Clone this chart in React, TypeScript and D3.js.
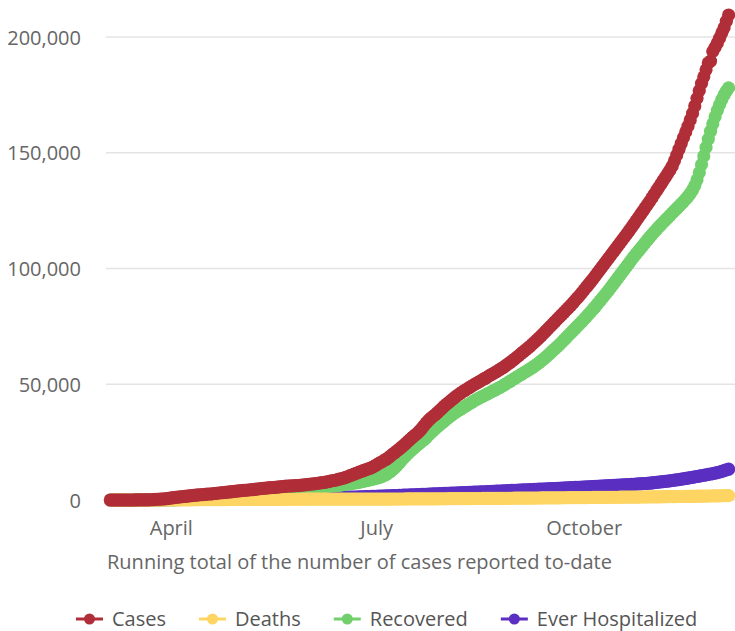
import React from "react";
import * as d3 from "d3";

// Daily running totals, first value = 2020-03-05, last value = 2020-12-04
const startDate = new Date(2020, 2, 5);
const endDate = new Date(2020, 11, 4);

const cases = [
  1, 1, 2, 2, 2, 2, 2, 3, 4, 7, 10, 17, 29, 44, 49, 53, 67, 81, 106, 164, 248, 322, 377, 429, 481, 565,
  719, 879, 988, 1159, 1252, 1327, 1472, 1524, 1684, 1794, 1868, 1970, 2069, 2184, 2263, 2357, 2465, 2510, 2599, 2680, 2807, 2894, 3017, 3121, 3193, 3280, 3410, 3473, 3618, 3748,
  3851, 3972, 4044, 4127, 4201, 4330, 4424, 4490, 4613, 4732, 4852, 4962, 5086, 5132, 5236, 5310, 5398, 5489, 5532, 5680, 5750, 5849, 5960, 6037, 6090, 6137, 6229, 6270, 6338, 6418, 6506,
  6650, 6742, 6907, 7003, 7116, 7235, 7363, 7480, 7626, 7848, 8073, 8231, 8417, 8645, 8900, 9150, 9400, 9700, 10050, 10450, 10800, 11150, 11550, 11950, 12300, 12650, 13000, 13350, 13700, 14100,
  14600, 15200, 15800, 16300, 16900, 17500, 18100, 18900, 19700, 20400, 21200, 22000, 22800, 23600, 24500, 25400, 26300, 27200, 28000, 28800, 29800, 30900, 32100, 33300, 34400, 35300, 36100, 36900, 37800, 38700, 39600,
  40600, 41400, 42200, 43000, 43800, 44600, 45300, 46000, 46700, 47300, 47900, 48500, 49100, 49700, 50300, 50800, 51400, 52000, 52500, 53100, 53700, 54300, 54800, 55400, 56000, 56600, 57200, 57900, 58600, 59300, 60000,
  60800, 61600, 62400, 63200, 64000, 64800, 65600, 66400, 67300, 68200, 69100, 70000, 71000, 72000, 73000, 74000, 75000, 76000, 77000, 78000, 79000, 80000, 81000, 82000, 83000, 84000, 85100, 86200, 87300, 88400,
  89600, 90800, 92000, 93200, 94400, 95600, 96900, 98200, 99500, 100800, 102100, 103400, 104700, 106000, 107300, 108600, 109900, 111200, 112500, 113800, 115100, 116400, 117800, 119200, 120600, 122000, 123400, 124800, 126200, 127600, 129000,
  130500, 132000, 133500, 135000, 136500, 138000, 139500, 141000, 142500, 144200, 146500, 149000, 151500, 154000, 156500, 159000, 161500, 164200, 167000, 170200, 173500, 176800, 180000, 182800, 185800, 188800, 189600, 193800, 195500, 197400,
  199500, 201800, 204000, 206800, 209500,
];

const deaths = [
  0, 0, 0, 0, 0, 0, 0, 0, 0, 0, 0, 0, 0, 1, 1, 1, 2, 2, 3, 5, 7, 8, 15, 16, 17, 23,
  30, 34, 38, 42, 46, 51, 67, 80, 86, 88, 94, 99, 108, 123, 127, 131, 136, 139, 140, 143, 164, 170, 179, 188, 191, 195, 197, 207, 222, 230,
  234, 237, 238, 238, 245, 253, 260, 266, 270, 274, 278, 283, 288, 294, 299, 299, 300, 302, 307, 311, 313, 318, 320, 322, 322, 326, 328, 331, 334, 337, 340,
  341, 343, 344, 346, 348, 350, 351, 353, 354, 355, 357, 358, 359, 360, 361, 363, 364, 366, 368, 369, 370, 372, 373, 375, 377, 380, 382, 384, 386, 388,
  390, 394, 398, 400, 403, 406, 410, 414, 419, 424, 428, 432, 436, 441, 446, 451, 456, 461, 465, 470, 476, 482, 488, 494, 500, 505, 510, 516, 522, 530, 536,
  544, 550, 556, 562, 570, 578, 586, 594, 600, 606, 614, 622, 630, 638, 646, 652, 658, 666, 674, 682, 690, 698, 704, 710, 718, 726, 734, 742, 750, 756, 762,
  770, 780, 790, 800, 808, 816, 822, 830, 840, 850, 860, 870, 878, 886, 896, 906, 916, 926, 936, 944, 952, 962, 972, 982, 992, 1000, 1008, 1016, 1026, 1036,
  1046, 1056, 1066, 1074, 1082, 1092, 1102, 1112, 1122, 1132, 1140, 1148, 1158, 1168, 1178, 1188, 1198, 1206, 1214, 1224, 1234, 1244, 1254, 1264, 1272, 1280, 1290, 1300, 1310, 1320, 1330,
  1340, 1350, 1362, 1376, 1390, 1404, 1418, 1430, 1442, 1456, 1472, 1488, 1504, 1520, 1534, 1548, 1564, 1582, 1600, 1618, 1636, 1652, 1668, 1686, 1706, 1724, 1738, 1752, 1768, 1786,
  1806, 1830, 1856, 1880, 1904,
];

const recovered = [
  0, 0, 0, 0, 0, 0, 0, 0, 0, 0, 0, 0, 0, 0, 0, 0, 0, 0, 0, 0, 7, 8, 10, 13, 20, 25,
  31, 45, 58, 82, 125, 172, 230, 288, 358, 420, 488, 560, 640, 708, 790, 860, 940, 1020, 1100, 1180, 1260, 1340, 1420, 1500, 1580, 1660, 1740, 1830, 1920, 2010,
  2100, 2190, 2280, 2370, 2460, 2550, 2650, 2750, 2850, 2950, 3050, 3150, 3250, 3350, 3460, 3560, 3660, 3760, 3860, 3960, 4060, 4160, 4260, 4360, 4450, 4540, 4630, 4720, 4810, 4900, 4990,
  5080, 5170, 5260, 5350, 5440, 5530, 5620, 5710, 5800, 5890, 5980, 6070, 6160, 6250, 6350, 6460, 6580, 6700, 6830, 6970, 7120, 7280, 7450, 7630, 7820, 8020, 8230, 8450, 8680, 8920,
  9170, 9430, 9700, 10000, 10400, 10900, 11500, 12200, 13000, 13900, 14900, 16000, 17100, 18200, 19200, 20200, 21100, 22000, 22900, 23700, 24500, 25300, 26100, 27000, 28000, 29000, 29900, 30800, 31700, 32500, 33300,
  34100, 34900, 35700, 36500, 37200, 37900, 38500, 39100, 39700, 40300, 40900, 41500, 42100, 42700, 43300, 43800, 44300, 44800, 45300, 45800, 46300, 46800, 47300, 47800, 48300, 48800, 49400, 50000, 50600, 51200, 51800,
  52400, 53000, 53600, 54200, 54800, 55400, 56000, 56600, 57200, 57900, 58600, 59300, 60100, 60900, 61700, 62600, 63500, 64400, 65300, 66200, 67100, 68100, 69100, 70100, 71100, 72100, 73100, 74100, 75100, 76100,
  77100, 78100, 79200, 80300, 81400, 82500, 83600, 84800, 86000, 87200, 88400, 89600, 90800, 92100, 93400, 94700, 96000, 97300, 98600, 99900, 101200, 102500, 103800, 105100, 106300, 107500, 108700, 109900, 111100, 112300, 113500,
  114600, 115700, 116800, 117900, 118900, 119900, 120900, 121900, 122900, 123900, 124900, 125900, 126900, 127900, 128900, 130000, 131100, 132400, 133900, 135800, 138300, 141400, 144900, 148600, 152300, 155900, 159300, 162500, 165500, 168300,
  170800, 173000, 175000, 176600, 178000,
];

const hospitalized = [
  0, 0, 0, 0, 0, 0, 0, 0, 0, 0, 0, 2, 4, 8, 10, 14, 16, 20, 26, 45, 59, 71, 91, 105, 140, 164,
  202, 219, 257, 275, 316, 340, 363, 390, 415, 438, 460, 476, 493, 514, 533, 552, 570, 580, 589, 605, 620, 636, 654, 668, 680, 690, 700, 712, 725, 740,
  752, 760, 765, 772, 782, 790, 800, 808, 815, 820, 826, 834, 842, 850, 856, 860, 864, 870, 876, 882, 890, 896, 900, 904, 908, 914, 920, 926, 932, 936, 940,
  950, 960, 972, 984, 996, 1006, 1014, 1024, 1036, 1048, 1060, 1074, 1088, 1102, 1118, 1136, 1156, 1178, 1200, 1224, 1248, 1272, 1300, 1330, 1360, 1392, 1424, 1456, 1490, 1526,
  1565, 1604, 1640, 1672, 1706, 1744, 1784, 1826, 1868, 1910, 1950, 1988, 2028, 2070, 2112, 2156, 2200, 2240, 2278, 2318, 2360, 2404, 2448, 2492, 2532, 2570, 2610, 2652, 2696, 2740, 2782,
  2822, 2858, 2894, 2934, 2976, 3020, 3064, 3106, 3144, 3182, 3224, 3268, 3314, 3360, 3404, 3444, 3484, 3528, 3574, 3622, 3670, 3716, 3758, 3800, 3846, 3894, 3944, 3994, 4042, 4086, 4130,
  4176, 4222, 4268, 4312, 4352, 4390, 4430, 4474, 4520, 4566, 4612, 4656, 4698, 4740, 4786, 4834, 4882, 4930, 4976, 5020, 5066, 5116, 5168, 5220, 5270, 5318, 5364, 5412, 5462, 5514,
  5566, 5618, 5668, 5716, 5766, 5818, 5872, 5926, 5980, 6032, 6082, 6134, 6188, 6244, 6300, 6356, 6410, 6462, 6516, 6572, 6630, 6690, 6750, 6810, 6868, 6926, 6988, 7052, 7118, 7184, 7250,
  7360, 7470, 7580, 7700, 7820, 7940, 8060, 8180, 8300, 8430, 8560, 8700, 8840, 8990, 9140, 9300, 9460, 9630, 9800, 9980, 10160, 10340, 10520, 10700, 10890, 11080, 11240, 11420, 11620, 11820,
  12100, 12400, 12700, 13000, 13300,
];

const seriesNames = ["Cases", "Deaths", "Recovered", "Ever Hospitalized"];
const seriesColors = ["#b02e38", "#fed563", "#71d06c", "#5a2fc1"];
const yTicks = [0, 50000, 100000, 150000, 200000];
const xTickDates = [new Date(2020, 3, 1), new Date(2020, 6, 1), new Date(2020, 9, 1)];
const xTickLabels = ["April", "July", "October"];
const subtitle = "Running total of the number of cases reported to-date";

const FONT = "'Open Sans', 'Noto Sans', sans-serif";

function textWidth(t: string, size: number) {
  const c = document.createElement("canvas").getContext("2d");
  if (!c) return t.length * size * 0.55;
  c.font = `${size}px 'Open Sans'`;
  return c.measureText(t).width;
}

export default function App() {
  const W = 735;
  const H = 631;
  const dates = d3.timeDay.range(startDate, d3.timeDay.offset(endDate, 1));
  const x = d3.scaleTime().domain([startDate, endDate]).range([110.4, 728.6]);
  const y = d3.scaleLinear().domain([0, 200000]).range([500, 37]);
  const seriesData = [cases, deaths, recovered, hospitalized];
  const drawOrder = [3, 2, 1, 0];
  const R = 6.6;
  const fmt = d3.format(",");

  const line = d3
    .line<number>()
    .x((_, i) => x(dates[i]))
    .y((d) => y(d));

  // legend layout
  let lx = 76;
  const legendItems = seriesNames.map((name, i) => {
    const item = { name, color: seriesColors[i], x: lx };
    lx += 27 + 9 + textWidth(name, 20) + 33;
    return item;
  });

  return (
    <svg
      width={W}
      height={H}
      style={{ position: "absolute", left: 0, top: 0, display: "block", background: "#fff" }}
      fontFamily={FONT}
    >
      {yTicks.map((t) => (
        <g key={t}>
          <line x1={106} x2={W} y1={y(t)} y2={y(t)} stroke="#e4e4e4" strokeWidth={1.5} />
          <text x={81} y={y(t) + 7.5} textAnchor="end" fontSize={20} fill="#666">
            {fmt(t)}
          </text>
        </g>
      ))}
      {xTickDates.map((d, i) => (
        <text key={i} x={x(d)} y={535} textAnchor="middle" fontSize={20} fill="#666">
          {xTickLabels[i]}
        </text>
      ))}
      <text x={107} y={569} fontSize={20} fill="#666">
        {subtitle}
      </text>
      {drawOrder.map((si) => (
        <g key={si}>
          <path d={line(seriesData[si]) || ""} fill="none" stroke={seriesColors[si]} strokeWidth={3} />
          {seriesData[si].map((v, i) => (
            <circle key={i} cx={x(dates[i])} cy={y(v)} r={R} fill={seriesColors[si]} />
          ))}
        </g>
      ))}
      {legendItems.map((it) => (
        <g key={it.name}>
          <line x1={it.x} x2={it.x + 27} y1={619} y2={619} stroke={it.color} strokeWidth={3} />
          <circle cx={it.x + 13.5} cy={619} r={5.5} fill={it.color} />
          <text x={it.x + 36} y={626} fontSize={20} fill="#555">
            {it.name}
          </text>
        </g>
      ))}
    </svg>
  );
}
